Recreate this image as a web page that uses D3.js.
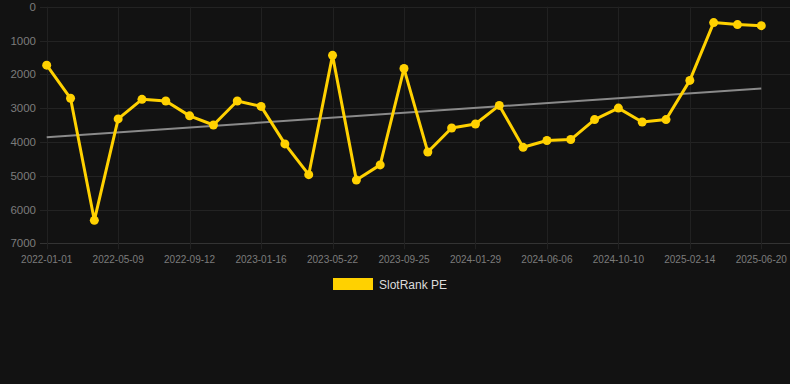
<!DOCTYPE html>
<html>
<head>
<meta charset="utf-8">
<script src="https://cdn.jsdelivr.net/npm/d3@7"></script>
<style>
  html, body { margin: 0; padding: 0; background: #121212; }
  svg { display: block; }
</style>
</head>
<body>
<div id="chart"></div>
<script>
//
// Chart data
//
const dates = [
  '2022-01-01', '2022-02-12', '2022-03-26', '2022-05-09', '2022-06-20', '2022-08-01',
  '2022-09-12', '2022-10-24', '2022-12-05', '2023-01-16', '2023-02-27', '2023-04-10',
  '2023-05-22', '2023-07-03', '2023-08-14', '2023-09-25', '2023-11-06', '2023-12-18',
  '2024-01-29', '2024-03-12', '2024-04-24', '2024-06-06', '2024-07-18', '2024-08-29',
  '2024-10-10', '2024-11-21', '2025-01-02', '2025-02-14', '2025-03-28', '2025-05-09',
  '2025-06-20'
]
const rankValues = [
  1730, 2710, 6320, 3320, 2740, 2790, 3230, 3500, 2790, 2950, 4060, 4970,
  1440, 5130, 4680, 1830, 4300, 3590, 3470, 2920, 4160, 3960, 3930, 3340,
  3000, 3410, 3340, 2180, 470, 530, 560
]
const yTicks = [0, 1000, 2000, 3000, 4000, 5000, 6000, 7000]
const seriesName = 'SlotRank PE'

const width = 790
const height = 384
const lineColour = '#ffd100'

const svg = d3.select('#chart')
  .append('svg')
  .attr('width', width)
  .attr('height', height)
  .style('font-family', '"Liberation Sans", Arial, sans-serif')

svg.append('rect').attr('width', width).attr('height', height).attr('fill', '#121212')

//
// Scales
//
const x = d3.scalePoint()
  .domain(d3.range(dates.length))
  .range([46.7, 761.3])
const y = d3.scaleLinear()
  .domain([0, 7000])
  .range([6.7, 243.3])

//
// Grid lines
//
svg.append('g')
  .selectAll('line')
  .data(yTicks)
  .enter().append('line')
  .attr('x1', 40)
  .attr('x2', width)
  .attr('y1', d => Math.round(y(d)) + 0.5)
  .attr('y2', d => Math.round(y(d)) + 0.5)
  .attr('stroke', d => d === 7000 ? '#333' : '#232323')
  .attr('stroke-width', 1)

const labelIdx = d3.range(0, dates.length, 3)
svg.append('g')
  .selectAll('line')
  .data(labelIdx)
  .enter().append('line')
  .attr('x1', d => Math.round(x(d)) + 0.5)
  .attr('x2', d => Math.round(x(d)) + 0.5)
  .attr('y1', y(0))
  .attr('y2', y(7000) + 6)
  .attr('stroke', '#212121')
  .attr('stroke-width', 1)

//
// Axis labels
//
svg.append('g')
  .selectAll('text')
  .data(yTicks)
  .enter().append('text')
  .attr('x', 36)
  .attr('y', d => y(d) + 4)
  .attr('text-anchor', 'end')
  .attr('fill', '#7c7c7c')
  .style('font-size', '11.5px')
  .text(d => d)

svg.append('g')
  .selectAll('text')
  .data(labelIdx)
  .enter().append('text')
  .attr('x', d => x(d))
  .attr('y', 263)
  .attr('text-anchor', 'middle')
  .attr('fill', '#7c7c7c')
  .style('font-size', '10px')
  .text(d => dates[d])

//
// Trend line (least squares on point index)
//
const n = rankValues.length
const meanX = d3.mean(d3.range(n))
const meanY = d3.mean(rankValues)
const slope = d3.sum(rankValues, (v, i) => (i - meanX) * (v - meanY)) /
  d3.sum(d3.range(n), i => (i - meanX) * (i - meanX))
const intercept = meanY - slope * meanX

svg.append('line')
  .attr('x1', x(0))
  .attr('x2', x(n - 1))
  .attr('y1', y(intercept))
  .attr('y2', y(intercept + slope * (n - 1)))
  .attr('stroke', '#8a8a8a')
  .attr('stroke-width', 2)

//
// Series line and points
//
const line = d3.line()
  .x((d, i) => x(i))
  .y(d => y(d))

svg.append('path')
  .datum(rankValues)
  .attr('d', line)
  .attr('fill', 'none')
  .attr('stroke', lineColour)
  .attr('stroke-width', 3)
  .attr('stroke-linejoin', 'round')

svg.append('g')
  .selectAll('circle')
  .data(rankValues)
  .enter().append('circle')
  .attr('cx', (d, i) => x(i))
  .attr('cy', d => y(d))
  .attr('r', 4.5)
  .attr('fill', lineColour)

//
// Legend
//
const legend = svg.append('g')
legend.append('rect')
  .attr('x', 333)
  .attr('y', 278)
  .attr('width', 40)
  .attr('height', 12)
  .attr('fill', lineColour)
legend.append('text')
  .attr('x', 379)
  .attr('y', 288.5)
  .attr('fill', '#dcdcdc')
  .style('font-size', '12px')
  .text(seriesName)
</script>
</body>
</html>
